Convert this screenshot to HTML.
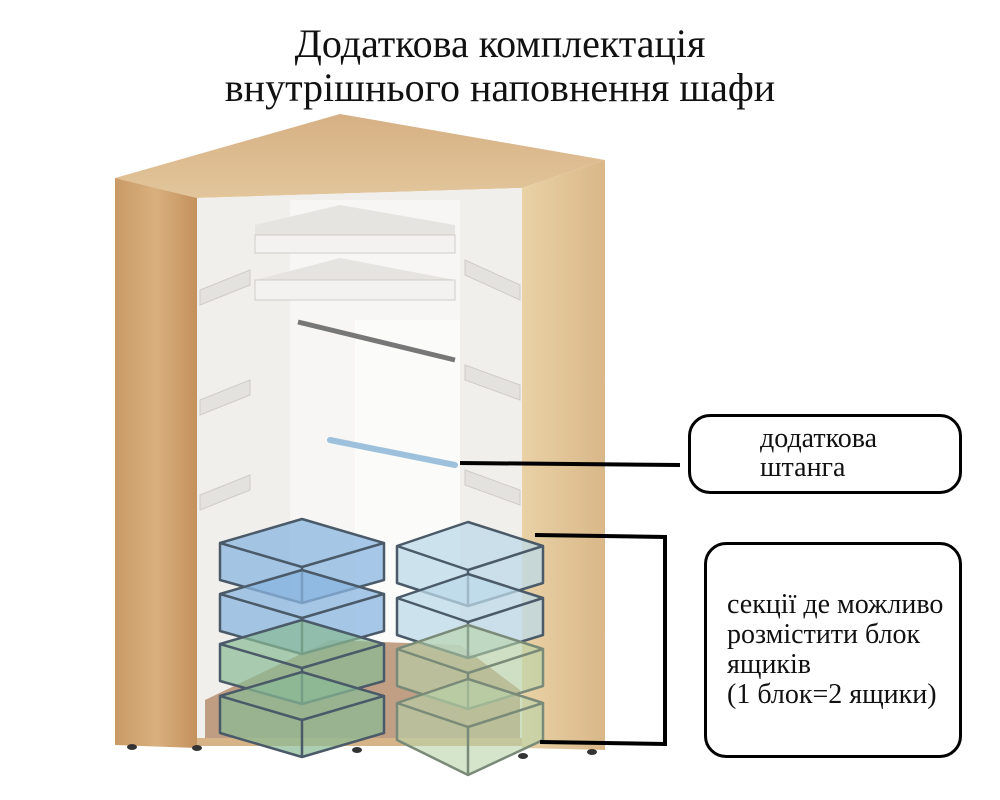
<!DOCTYPE html>
<html><head><meta charset="utf-8"><style>
html,body{margin:0;padding:0;background:#fff;}
body{width:1000px;height:800px;overflow:hidden;position:relative;font-family:"Liberation Serif",serif;}
.t{position:absolute;left:0;width:1000px;text-align:center;font-size:40px;color:#111;line-height:44px;}
.box{position:absolute;border:3px solid #000;border-radius:22px;background:#fff;}
.lbl{position:absolute;font-size:28px;line-height:29px;color:#111;white-space:nowrap;}
</style></head><body>
<svg width="1000" height="800" style="position:absolute;left:0;top:0">
<defs>
<linearGradient id="wl" x1="0" x2="1"><stop offset="0" stop-color="#c99a66"/><stop offset="0.5" stop-color="#d8b07e"/><stop offset="1" stop-color="#c4915c"/></linearGradient>
<linearGradient id="wr" x1="0" x2="1"><stop offset="0" stop-color="#e9d2a6"/><stop offset="1" stop-color="#d9b788"/></linearGradient>
<linearGradient id="wt" x1="0" y1="0" x2="0" y2="1"><stop offset="0" stop-color="#d6b084"/><stop offset="1" stop-color="#e2c69b"/></linearGradient>
</defs>
<polygon points="115,178 340,114 605,160 522,188 197,198" fill="url(#wt)"/>
<polygon points="197,198 522,188 522,745 197,745" fill="#f1efec"/>
<rect x="290" y="200" width="170" height="545" fill="#f7f6f4"/>
<rect x="355" y="320" width="105" height="330" fill="#fbfbfa"/>
<g fill="#e4e2de" stroke="#cfccc7">
<polygon points="200,290 250,270 250,285 200,305"/>
<polygon points="200,400 250,380 250,395 200,415"/>
<polygon points="200,495 250,475 250,490 200,510"/>
<polygon points="465,260 520,285 520,300 465,275"/>
<polygon points="465,365 520,385 520,400 465,380"/>
<polygon points="465,470 520,490 520,505 465,485"/>
</g>
<polygon points="255,225 340,205 455,225 455,240 255,240" fill="#e6e4e0"/>
<rect x="255" y="235" width="200" height="18" fill="#f3f2f0" stroke="#d0cdc8"/>
<polygon points="255,280 340,258 455,280 455,285 255,285" fill="#e6e4e0"/>
<rect x="255" y="280" width="200" height="20" fill="#f3f2f0" stroke="#d0cdc8"/>
<line x1="298" y1="322" x2="455" y2="360" stroke="#777" stroke-width="5"/>
<line x1="330" y1="440" x2="455" y2="465" stroke="#9dc0dc" stroke-width="6" stroke-linecap="round"/>
<polygon points="205,700 330,640 460,645 520,690 520,745 205,745" fill="#a87a55" opacity="0.7"/>
<polygon points="115,178 197,198 197,748 115,745" fill="url(#wl)"/>
<polygon points="522,188 605,160 605,750 522,748" fill="url(#wr)"/>
<rect x="197" y="738" width="325" height="8" fill="#d6b487"/>
<ellipse cx="132" cy="747" rx="5" ry="3" fill="#333"/>
<ellipse cx="197" cy="748" rx="5" ry="3" fill="#333"/>
<ellipse cx="357" cy="750" rx="5" ry="3" fill="#333"/>
<ellipse cx="523" cy="756" rx="5" ry="3" fill="#333"/>
<ellipse cx="592" cy="752" rx="5" ry="3" fill="#333"/>
<g stroke="#4a5a68" stroke-width="2.5" stroke-linejoin="round">
<g fill="#8ab6e0" fill-opacity="0.75">
<polygon points="220,543 302,519 384,543 384,580 302,603 220,580"/><polyline fill="none" points="220,543 302,567 384,543"/><line x1="302" y1="567" x2="302" y2="603"/>
<polygon points="220,594 302,570 384,594 384,631 302,654 220,631"/><polyline fill="none" points="220,594 302,618 384,594"/><line x1="302" y1="618" x2="302" y2="654"/>
</g>
<g fill="#89bb94" fill-opacity="0.7">
<polygon points="220,644 302,620 384,644 384,681 302,704 220,681"/><polyline fill="none" points="220,644 302,668 384,644"/><line x1="302" y1="668" x2="302" y2="704"/>
<polygon points="220,696 302,672 384,696 384,733 302,757 220,733"/><polyline fill="none" points="220,696 302,720 384,696"/><line x1="302" y1="720" x2="302" y2="757"/>
</g>
<g fill="#bcd9e8" fill-opacity="0.75">
<polygon points="397,546 468,522 543,546 543,583 468,606 397,583"/><polyline fill="none" points="397,546 468,570 543,546"/><line x1="468" y1="570" x2="468" y2="606"/>
<polygon points="397,598 468,574 543,598 543,635 468,658 397,635"/><polyline fill="none" points="397,598 468,622 543,598"/><line x1="468" y1="622" x2="468" y2="658"/>
</g>
<g fill="#b8d3a8" fill-opacity="0.6" stroke="#7a8a78">
<polygon points="397,649 468,625 543,649 543,686 468,709 397,686"/><polyline fill="none" points="397,649 468,673 543,649"/><line x1="468" y1="673" x2="468" y2="709"/>
<polygon points="397,703 468,679 543,703 543,740 468,775 397,740"/><polyline fill="none" points="397,703 468,727 543,703"/><line x1="468" y1="727" x2="468" y2="775"/>
</g>
</g>
<g stroke="#000" stroke-width="4" fill="none">
<line x1="460" y1="463" x2="680" y2="465"/>
<polyline points="535,535 665,537 665,744 540,742"/>
</g>
</svg>
<div class="t" style="top:22px">Додаткова комплектація</div>
<div class="t" style="top:66px">внутрішнього наповнення шафи</div>
<div class="box" style="left:688px;top:414px;width:268px;height:74px"></div>
<div class="lbl" style="left:760px;top:424px">додаткова<br>штанга</div>
<div class="box" style="left:704px;top:542px;width:252px;height:210px"></div>
<div class="lbl" style="left:727px;top:590px;line-height:30px">секції де можливо<br>розмістити блок<br>ящиків<br>(1 блок=2 ящики)</div>
</body></html>
